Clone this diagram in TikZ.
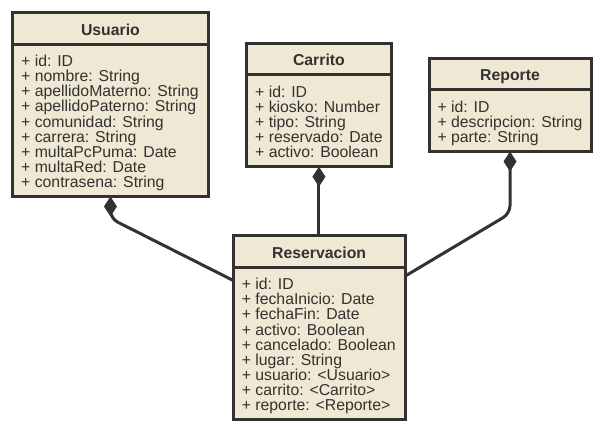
\documentclass[tikz,border=0pt]{standalone}
\usepackage{fontspec}
\setmainfont{Liberation Sans}
\usepackage{tikz}
\usetikzlibrary{arrows.meta,shapes.multipart,calc}
\definecolor{umlfill}{HTML}{EEE8D5}
\definecolor{umlline}{HTML}{33322E}
\newcommand{\topgap}{\rule{0pt}{21pt}}
\newcommand{\botgap}{\rule[-7.5pt]{0pt}{7.5pt}}
\begin{document}
\begin{tikzpicture}[x=1pt,y=-1pt,
  classbox/.style={rectangle split, rectangle split parts=2,
    rectangle split part align={center,left}, draw=umlline, fill=umlfill,
    line width=3pt, inner xsep=8.5pt, inner ysep=0pt, outer sep=0pt,
    anchor=north west, align=left, text=umlline,
    font=\fontsize{15.8}{15.1}\selectfont},
  assoc/.style={umlline, line width=3pt, rounded corners=8pt,
    {Diamond[length=20pt,width=13pt]}-}]
  \useasboundingbox (0,0) rectangle (603,430);
  \node[classbox, minimum width=195.5pt] (usuario) at (12.7,12.7)
    {\topgap\textbf{Usuario}\botgap
     \nodepart{two}\topgap+ id: ID\\+ nombre: String\\
     + apellidoMaterno: String\\+ apellidoPaterno: String\\
     + comunidad: String\\+ carrera: String\\+ multaPcPuma: Date\\
     + multaRed: Date\\+ contrasena: String\botgap};
  \node[classbox, minimum width=143.3pt] (carrito) at (246.7,43.3)
    {\topgap\textbf{Carrito}\botgap
     \nodepart{two}\topgap+ id: ID\\+ kiosko: Number\\+ tipo: String\\
     + reservado: Date\\+ activo: Boolean\botgap};
  \node[classbox, minimum width=161.7pt] (reporte) at (429,58.3)
    {\topgap\textbf{Reporte}\botgap
     \nodepart{two}\topgap+ id: ID\\+ descripcion: String\\
     + parte: String\botgap};
  \node[classbox, minimum width=171.7pt] (reservacion) at (233.3,235.7)
    {\topgap\textbf{Reservacion}\botgap
     \nodepart{two}\topgap+ id: ID\\+ fechaInicio: Date\\+ fechaFin: Date\\
     + activo: Boolean\\+ cancelado: Boolean\\+ lugar: String\\
     + usuario: <Usuario>\\+ carrito: <Carrito>\\
     + reporte: <Reporte>\botgap};
  % composiciones
  \draw[assoc] (usuario.south) -- ++(0,22)
    -- ([yshift=-13.3pt]reservacion.text split west);
  \draw[assoc] (carrito.south) -- (carrito.south |- reservacion.north);
  \draw[assoc] (reporte.south) -- ++(0,62)
    -- ([yshift=-9pt]reservacion.text split east);
\end{tikzpicture}
\end{document}
